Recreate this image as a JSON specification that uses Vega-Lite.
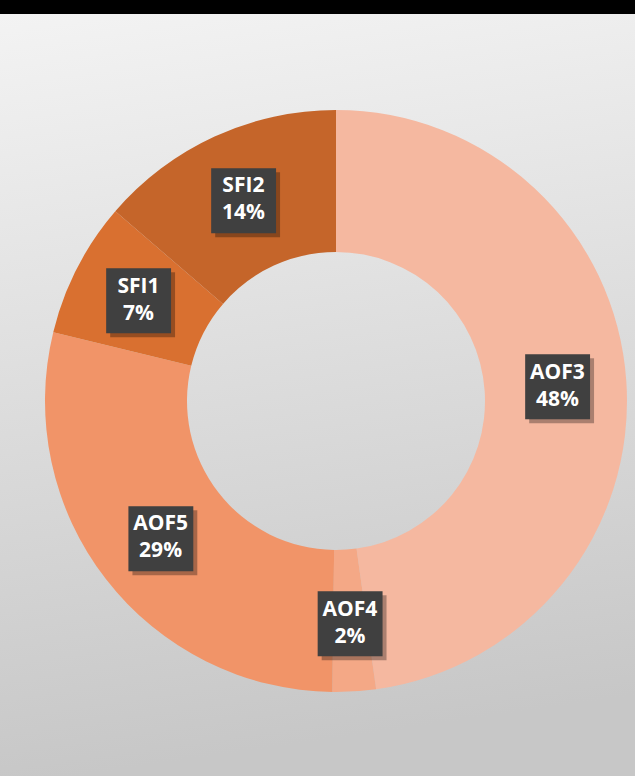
{
  "$schema": "https://vega.github.io/schema/vega-lite/v6.json",
  "autosize": {"type": "fit", "contains": "padding"},
  "width": 635,
  "height": 776,
  "padding": {"top": 14, "left": 0, "right": 0, "bottom": 0},
  "background": "#000000",
  "config": {"view": {"stroke": null}},
  "data": {
    "values": [
      {"name": "AOF3", "value": 47.8, "pct": "48%"},
      {"name": "AOF4", "value": 2.4, "pct": "2%"},
      {"name": "AOF5", "value": 28.6, "pct": "29%"},
      {"name": "SFI1", "value": 7.5, "pct": "7%"},
      {"name": "SFI2", "value": 13.7, "pct": "14%"}
    ]
  },
  "encoding": {
    "theta": {"field": "value", "type": "quantitative", "stack": true},
    "order": {"field": "name", "type": "ordinal", "sort": "ascending"},
    "color": {
      "field": "name",
      "type": "nominal",
      "legend": null,
      "scale": {
        "domain": ["AOF3", "AOF4", "AOF5", "SFI1", "SFI2"],
        "range": ["#F5B8A0", "#F4A886", "#F19468", "#D97030", "#C5652A"]
      }
    }
  },
  "layer": [
    {
      "data": {"values": [{"bg": 1}]},
      "mark": {
        "type": "rect",
        "color": {
          "gradient": "linear",
          "x1": 0, "y1": 0, "x2": 0.12, "y2": 1,
          "stops": [
            {"offset": 0, "color": "#f3f3f3"},
            {"offset": 1, "color": "#c7c7c7"}
          ]
        }
      },
      "encoding": {"theta": null, "color": null, "order": null}
    },
    {
      "mark": {"type": "arc", "outerRadius": 291, "innerRadius": 149, "xOffset": 18.5, "yOffset": 6}
    },
    {
      "mark": {"type": "text", "radius": 222, "text": "■", "font": "DejaVu Sans", "fontSize": 85, "baseline": "middle", "align": "center", "color": "#000000", "opacity": 0.3, "xOffset": 22.5, "yOffset": 7.5},
      "encoding": {"color": null}
    },
    {
      "mark": {"type": "text", "radius": 222, "text": "■", "font": "DejaVu Sans", "fontSize": 85, "baseline": "middle", "align": "center", "color": "#404040", "xOffset": 18.5, "yOffset": 3.5},
      "encoding": {"color": null}
    },
    {
      "mark": {"type": "text", "radius": 222, "font": "Open Sans", "fontWeight": "bold", "fontSize": 21, "baseline": "middle", "align": "center", "color": "#ffffff", "xOffset": 18.5, "yOffset": -7},
      "encoding": {"color": null, "text": {"field": "name"}}
    },
    {
      "mark": {"type": "text", "radius": 222, "font": "Open Sans", "fontWeight": "bold", "fontSize": 21, "baseline": "middle", "align": "center", "color": "#ffffff", "xOffset": 18.5, "yOffset": 20},
      "encoding": {"color": null, "text": {"field": "pct"}}
    }
  ]
}
